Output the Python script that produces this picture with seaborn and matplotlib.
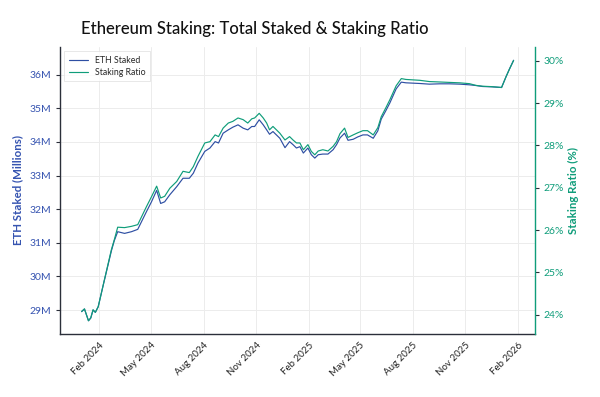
import matplotlib
matplotlib.use("Agg")
import matplotlib.pyplot as plt
import matplotlib.dates as mdates
from matplotlib.ticker import FuncFormatter
import pandas as pd
import seaborn as sns

dates = ["2024-01-01", "2024-01-06", "2024-01-13", "2024-01-17", "2024-01-21", "2024-01-25",
         "2024-01-30", "2024-02-09", "2024-02-22", "2024-02-27", "2024-03-04", "2024-03-16",
         "2024-03-28", "2024-04-08", "2024-04-23", "2024-05-02", "2024-05-11", "2024-05-18",
         "2024-05-25", "2024-06-03", "2024-06-15", "2024-06-26", "2024-07-07", "2024-07-14",
         "2024-07-22", "2024-08-03", "2024-08-12", "2024-08-21", "2024-08-27", "2024-09-04",
         "2024-09-13", "2024-09-21", "2024-09-30", "2024-10-09", "2024-10-17", "2024-10-24",
         "2024-10-29", "2024-11-06", "2024-11-13", "2024-11-19", "2024-11-24", "2024-11-30",
         "2024-12-06", "2024-12-12", "2024-12-21", "2024-12-29", "2025-01-04", "2025-01-10",
         "2025-01-16", "2025-01-22", "2025-01-30", "2025-02-05", "2025-02-11", "2025-02-17",
         "2025-02-25", "2025-03-06", "2025-03-15", "2025-03-21", "2025-03-27", "2025-04-04",
         "2025-04-10", "2025-04-19", "2025-04-27", "2025-05-06", "2025-05-14", "2025-05-24",
         "2025-06-01", "2025-06-07", "2025-06-15", "2025-06-22", "2025-07-03", "2025-07-12",
         "2025-07-20", "2025-08-01", "2025-08-13", "2025-08-30", "2025-09-17", "2025-10-04",
         "2025-10-22", "2025-11-08", "2025-11-19", "2025-12-01", "2025-12-17", "2026-01-03",
         "2026-01-11", "2026-01-17", "2026-01-24"]

eth_staked_m = [28.95, 29.03, 28.68, 28.76, 29.00, 28.93,
                29.10, 29.83, 30.76, 31.06, 31.33, 31.28,
                31.33, 31.40, 31.92, 32.22, 32.56, 32.17,
                32.22, 32.43, 32.67, 32.92, 32.92, 33.07,
                33.37, 33.72, 33.82, 34.01, 33.97, 34.26,
                34.36, 34.44, 34.51, 34.41, 34.36, 34.46,
                34.46, 34.66, 34.51, 34.36, 34.23, 34.31,
                34.21, 34.11, 33.83, 34.01, 33.92, 33.82,
                33.86, 33.67, 33.82, 33.62, 33.52, 33.62,
                33.64, 33.64, 33.77, 33.92, 34.12, 34.26,
                34.05, 34.08, 34.15, 34.21, 34.21, 34.11,
                34.33, 34.68, 34.93, 35.16, 35.58, 35.78,
                35.76, 35.75, 35.74, 35.72, 35.73, 35.73,
                35.72, 35.70, 35.68, 35.65, 35.64, 35.62,
                35.95, 36.18, 36.43]

staking_ratio_pct = [24.08, 24.14, 23.86, 23.93, 24.12, 24.06,
                     24.19, 24.78, 25.54, 25.77, 26.07, 26.06,
                     26.09, 26.13, 26.55, 26.79, 27.04, 26.76,
                     26.80, 26.99, 27.15, 27.39, 27.36, 27.50,
                     27.74, 28.06, 28.09, 28.25, 28.21, 28.41,
                     28.53, 28.57, 28.65, 28.61, 28.53, 28.63,
                     28.65, 28.76, 28.65, 28.53, 28.37, 28.45,
                     28.37, 28.29, 28.13, 28.21, 28.13, 28.06,
                     28.06, 27.90, 28.02, 27.86, 27.78, 27.87,
                     27.90, 27.87, 27.98, 28.09, 28.28, 28.41,
                     28.19, 28.25, 28.30, 28.35, 28.35, 28.25,
                     28.42, 28.68, 28.89, 29.08, 29.41, 29.58,
                     29.56, 29.55, 29.54, 29.51, 29.50, 29.49,
                     29.48, 29.46, 29.42, 29.40, 29.39, 29.37,
                     29.63, 29.81, 30.01]

left_ticks = [29, 30, 31, 32, 33, 34, 35, 36]
right_ticks = [24, 25, 26, 27, 28, 29, 30]

BLUE = "#2e4fa3"
BLUE_TXT = "#3553b0"
GREEN = "#0f9d7a"
DARK = "#2b2f3a"

df = pd.DataFrame({"date": pd.to_datetime(dates),
                   "eth": eth_staked_m,
                   "ratio": staking_ratio_pct})

sns.set_theme(style="whitegrid")
plt.rcParams["font.family"] = ["Lato", "DejaVu Sans"]

fig = plt.figure(figsize=(6.0, 3.97), dpi=100)
ax = fig.add_axes([0.100, 0.159, 0.792, 0.723])
ax2 = ax.twinx()

sns.lineplot(data=df, x="date", y="eth", ax=ax, color=BLUE, linewidth=0.85,
             label="ETH Staked", legend=False)
sns.lineplot(data=df, x="date", y="ratio", ax=ax2, color=GREEN, linewidth=0.85,
             label="Staking Ratio", legend=False)

ax.set_ylim(28.29, 36.83)
ax2.set_ylim(23.55, 30.33)
ax.set_yticks(left_ticks)
ax2.set_yticks(right_ticks)
ax.yaxis.set_major_formatter(FuncFormatter(lambda v, p: f"{v:.0f}M"))
ax2.yaxis.set_major_formatter(FuncFormatter(lambda v, p: f"{v:.0f}%"))

ax.xaxis.set_major_locator(mdates.MonthLocator(bymonth=[2, 5, 8, 11]))
ax.xaxis.set_major_formatter(mdates.DateFormatter("%b %Y"))
for lab in ax.get_xticklabels():
    lab.set_rotation(45)
    lab.set_ha("right")
    lab.set_rotation_mode("anchor")

ax.grid(True, color="#ececec", linewidth=0.7)
ax2.grid(False)
ax.set_facecolor("white")

ax.tick_params(axis="x", labelsize=7, colors=DARK, length=3, width=0.8, pad=2)
ax.tick_params(axis="x", labelcolor="#222222")
ax.tick_params(axis="y", labelsize=7.5, length=3, width=0.8, colors=DARK, pad=3)
ax.tick_params(axis="y", labelcolor=BLUE_TXT)
ax2.tick_params(axis="y", labelsize=7.5, length=3, width=0.8, colors=DARK, pad=3)
ax2.tick_params(axis="y", labelcolor=GREEN)

ax.set_xlabel("")
ax.set_ylabel("ETH Staked (Millions)", color=BLUE_TXT, fontsize=8.3, fontweight="bold", labelpad=5)
ax2.set_ylabel("Staking Ratio (%)", color=GREEN, fontsize=8.3, fontweight="bold", labelpad=3)

for a in (ax, ax2):
    a.spines["top"].set_visible(False)
ax.spines["left"].set_color(DARK)
ax.spines["bottom"].set_color(DARK)
ax.spines["right"].set_visible(False)
ax2.spines["left"].set_visible(False)
ax2.spines["bottom"].set_visible(False)
ax2.spines["right"].set_color(GREEN)
for s in ("left", "bottom"):
    ax.spines[s].set_linewidth(1.0)
ax2.spines["right"].set_linewidth(1.0)

h1, lab1 = ax.get_legend_handles_labels()
h2, lab2 = ax2.get_legend_handles_labels()
leg = ax.legend(h1 + h2, lab1 + lab2, loc="upper left", fontsize=6.3, frameon=True,
                fancybox=False, edgecolor="#dddddd", borderpad=0.5, handlelength=2.2,
                labelspacing=0.35, bbox_to_anchor=(0.0, 1.0))
leg.get_frame().set_linewidth(0.6)

fig.text(0.424, 0.928, "Ethereum Staking: Total Staked & Staking Ratio", ha="center", va="center",
         fontsize=12, fontweight="medium", color="#111111")

fig.savefig("out.png", dpi=100, facecolor="white")
